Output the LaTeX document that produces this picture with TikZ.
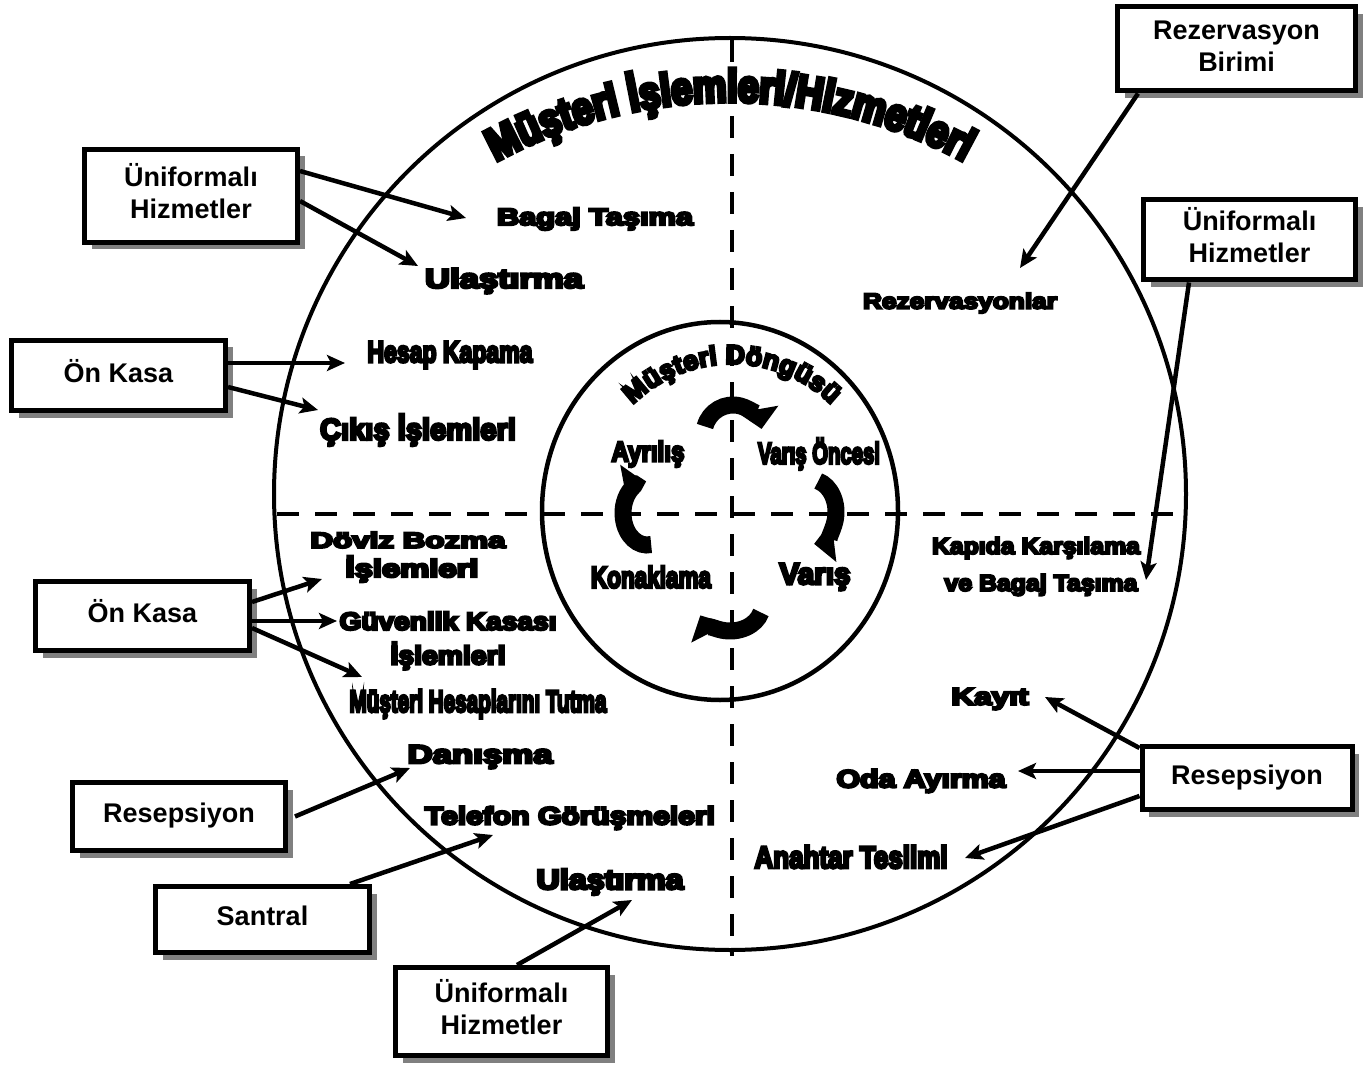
\documentclass[tikz,border=0pt]{standalone}
\usepackage{fontspec}
\usepackage{graphicx}
\setmainfont{Liberation Sans}
\newfontfamily\blk[FakeBold=9]{Liberation Sans Bold}
\newfontfamily\ttlfont[FakeBold=9,FakeStretch=0.82]{Liberation Sans Bold}
\usetikzlibrary{arrows.meta,shadows,decorations.text}
\newcommand\LB[3]{\resizebox{#1pt}{\height}{\blk\fontsize{#2}{#2}\selectfont #3}}
\newcommand\BX[2][5pt]{\raisebox{#1}{\begin{tabular}{@{}c@{}}#2\end{tabular}}}
\tikzset{
  box/.style={draw, line width=5pt, fill=white, inner sep=0pt,
    font=\bfseries\fontsize{27}{32}\selectfont,
    drop shadow={shadow xshift=7pt,shadow yshift=-7pt,fill=black!50,opacity=1}},
  lab/.style={inner sep=0pt, anchor=center},
  conn/.style={line width=4.5pt, -{Stealth[length=18pt,width=16pt,inset=4pt]}},
  cyc/.style={line width=17pt, -{Triangle[length=20pt,width=40pt]}},
  dline/.style={line width=4.5pt, dash pattern=on 22pt off 16pt},
}
\begin{document}
\begin{tikzpicture}[x=1pt,y=-1pt]
\fill[white] (0,0) rectangle (1371,1067);
\useasboundingbox (0,0) rectangle (1371,1067);
% circles and dashed axes
\draw[line width=4pt] (730,494) circle[radius=456];
\draw[line width=4.5pt] (720,511) ellipse[x radius=178,y radius=189];
\draw[dline] (732,40) -- (732,956);
\draw[dline] (277,514) -- (1187,514);
% curved titles
\path[decorate,decoration={text along path,text align=center,
  text={|\ttlfont\fontsize{46}{46}\selectfont|Müşteri İşlemleri/Hizmetleri}}]
  (730,590) ++(200:488) arc[start angle=200,end angle=340,radius=488];
\path[decorate,decoration={text along path,text align=center,
  text={|\blk\fontsize{27}{27}\selectfont|Müşteri Döngüsü}}]
  (732,505) ++(200:141) arc[start angle=200,end angle=340,radius=141];
% cycle arrows
\draw[cyc] (733,434) ++(195:29) arc[start angle=195,end angle=350,radius=29];
\draw[cyc] (812,512) ++(285:24 and 32) arc[start angle=285,end angle=445,x radius=24,y radius=32];
\draw[cyc] (730,606) ++(15:32 and 25) arc[start angle=15,end angle=158,x radius=32,y radius=25];
\draw[cyc] (647,513) ++(80:24 and 32) arc[start angle=80,end angle=262,x radius=24,y radius=32];
% labels
\node[lab] (bagaj) at (595,219) {\LB{196}{24}{Bagaj Taşıma}};
\node[lab] (ulas1) at (504,281) {\LB{158}{27}{Ulaştırma}};
\node[lab] (hesap) at (450,355) {\LB{165}{30}{Hesap Kapama}};
\node[lab] (cikis) at (418,430) {\LB{196}{30}{Çıkış İşlemleri}};
\node[lab] (rezl) at (960,303) {\LB{194}{22}{Rezervasyonlar}};
\node[lab] (doviz) at (408,540) {\LB{195}{22}{Döviz Bozma}};
\node[lab] (isl1) at (412,569) {\LB{133}{25}{İşlemleri}};
\node[lab] (guv) at (448,621) {\LB{217}{25}{Güvenlik Kasası}};
\node[lab] (isl2) at (448,656) {\LB{115}{26}{İşlemleri}};
\node[lab] (mht) at (478,704) {\LB{257}{31}{Müşteri Hesaplarını Tutma}};
\node[lab] (danisma) at (480,757) {\LB{145}{26}{Danışma}};
\node[lab] (telefon) at (570,818) {\LB{290}{25}{Telefon Görüşmeleri}};
\node[lab] (ulas2) at (610,882) {\LB{147}{28}{Ulaştırma}};
\node[lab] (kapida) at (1036,548) {\LB{208}{23}{Kapıda Karşılama}};
\node[lab] (vebagaj) at (1041,585) {\LB{193}{23}{ve Bagaj Taşıma}};
\node[lab] (kayit) at (990,699) {\LB{77}{24}{Kayıt}};
\node[lab] (oda) at (921,781) {\LB{169}{25}{Oda Ayırma}};
\node[lab] (anahtar) at (851,857) {\LB{193}{31}{Anahtar Teslimi}};
\node[lab] (ayrilis) at (648,454) {\LB{73}{28}{Ayrılış}};
\node[lab] (varisonc) at (819,454) {\LB{122}{30}{Varış Öncesi}};
\node[lab] (konak) at (651,577) {\LB{120}{30}{Konaklama}};
\node[lab] (varis) at (815,577) {\LB{71}{30}{Varış}};
% boxes
\node[box, minimum width=213pt, minimum height=93pt] (uh1) at (191,196) {\BX{Üniformalı\\Hizmetler}};
\node[box, minimum width=214pt, minimum height=70pt] (ok1) at (118.5,375.5) {\BX[10pt]{Ön Kasa}};
\node[box, minimum width=214pt, minimum height=69pt] (ok2) at (142.5,616) {\BX[10pt]{Ön Kasa}};
\node[box, minimum width=213pt, minimum height=68pt] (res1) at (179,816.5) {\BX[9pt]{Resepsiyon}};
\node[box, minimum width=214pt, minimum height=66pt] (san) at (262.5,919.5) {\BX[9pt]{Santral}};
\node[box, minimum width=212pt, minimum height=88pt] (uh3) at (501.5,1011.5) {\BX[2pt]{Üniformalı\\Hizmetler}};
\node[box, minimum width=238pt, minimum height=84pt] (rez) at (1236.5,49) {\BX[0pt]{Rezervasyon\\Birimi}};
\node[box, minimum width=212pt, minimum height=80pt] (uh2) at (1249.5,240) {\BX[1pt]{Üniformalı\\Hizmetler}};
\node[box, minimum width=210pt, minimum height=63pt] (res2) at (1247,778) {\BX[2pt]{Resepsiyon}};
% arrow tips
\coordinate (tBag) at (466,218);
\coordinate (tUl1) at (418,266);
\coordinate (tHes) at (345,363);
\coordinate (tCik) at (318,410);
\coordinate (tDov) at (322,579);
\coordinate (tGuv) at (337,621);
\coordinate (tMht) at (362,677);
\coordinate (tDan) at (410,768);
\coordinate (tTel) at (493,835);
\coordinate (tUl2) at (632,900);
\coordinate (tRez) at (1020,268);
\coordinate (tKap) at (1146,580);
\coordinate (tKay) at (1045,697);
\coordinate (tOda) at (1018,771);
\coordinate (tAna) at (965,858);
% connectors
\draw[conn] ([yshift=25pt]uh1.east) -- (tBag);
\draw[conn] ([yshift=-5pt]uh1.east) -- (tUl1);
\draw[conn] ([yshift=12.5pt]ok1.east) -- (tHes);
\draw[conn] ([yshift=-11.5pt]ok1.east) -- (tCik);
\draw[conn] ([yshift=14pt]ok2.east) -- (tDov);
\draw[conn] ([yshift=-5pt]ok2.east) -- (tGuv);
\draw[conn] ([yshift=-12pt]ok2.east) -- (tMht);
\draw[conn] ([xshift=7pt]res1.east) -- (tDan);
\draw[conn] ([xshift=87.5pt]san.north) -- (tTel);
\draw[conn] ([xshift=15.5pt]uh3.north) -- (tUl2);
\draw[conn] ([xshift=-98.5pt]rez.south) -- (tRez);
\draw[conn] ([xshift=-60.5pt]uh2.south) -- (tKap);
\draw[conn] ([yshift=30pt]res2.west) -- (tKay);
\draw[conn] ([yshift=7pt]res2.west) -- (tOda);
\draw[conn] ([yshift=-18pt]res2.west) -- (tAna);
\end{tikzpicture}
\end{document}
